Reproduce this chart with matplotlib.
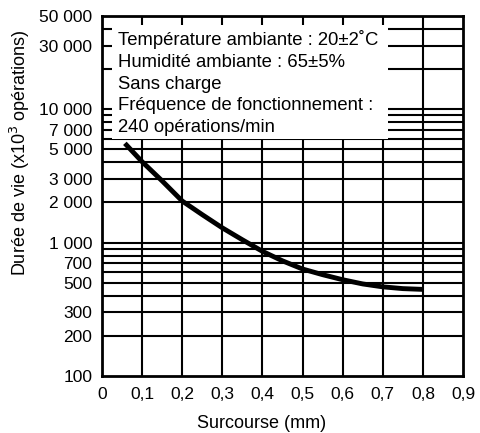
import numpy as np
import matplotlib
matplotlib.use("Agg")
import matplotlib.pyplot as plt
from matplotlib.patches import Rectangle
from matplotlib.ticker import FixedLocator, FuncFormatter, NullFormatter

plt.rcParams["font.family"] = ["Liberation Sans", "DejaVu Sans"]

# curve (stroke in mm, life in x10^3 operations)
stroke = [0.057, 0.1, 0.15, 0.2, 0.25, 0.3, 0.35, 0.4, 0.45, 0.5, 0.55,
          0.6, 0.65, 0.7, 0.75, 0.8]
life = [5550, 4040, 2900, 2050, 1620, 1290, 1050, 860, 730, 634, 575,
        527, 490, 466, 452, 446]

y_ticks = [100, 200, 300, 500, 700, 1000, 2000, 3000, 5000, 7000,
           10000, 30000, 50000]
y_grid = [200, 300, 400, 500, 600, 700, 800, 900, 1000, 2000, 3000, 4000,
          5000, 6000, 7000, 8000, 9000, 10000, 20000, 30000, 40000]
x_ticks = [0, 0.1, 0.2, 0.3, 0.4, 0.5, 0.6, 0.7, 0.8, 0.9]

conditions = ["Température ambiante : 20±2˚C",
              "Humidité ambiante : 65±5%",
              "Sans charge",
              "Fréquence de fonctionnement :",
              "240 opérations/min"]

fig = plt.figure(figsize=(4.81, 4.33), dpi=100)
ax = fig.add_axes([102 / 481, 1 - 376 / 433, 361 / 481, 360 / 433])

ax.set_yscale("log")
ax.set_xlim(0, 0.9)
ax.set_ylim(100, 50000)

ax.yaxis.set_major_locator(FixedLocator(y_ticks))
ax.yaxis.set_minor_locator(FixedLocator([]))
ax.yaxis.set_major_formatter(
    FuncFormatter(lambda v, p: f"{int(v):,}".replace(",", " ")))
ax.yaxis.set_minor_formatter(NullFormatter())
ax.xaxis.set_major_locator(FixedLocator(x_ticks))
ax.xaxis.set_major_formatter(
    FuncFormatter(lambda v, p: "0" if v == 0 else f"{v:.1f}".replace(".", ",")))
ax.tick_params(length=0, labelsize=12.5)
ax.tick_params(axis="y", pad=7)
ax.tick_params(axis="x", pad=8)

for v in y_grid:
    ax.axhline(v, color="black", lw=1.5, zorder=1)
for v in x_ticks[1:-1]:
    ax.axvline(v, color="black", lw=1.5, zorder=1)
for s in ax.spines.values():
    s.set_linewidth(2)

ax.add_patch(Rectangle((0.028, 0.658), 0.764, 0.317, transform=ax.transAxes,
                       facecolor="white", edgecolor="none", zorder=2))
ax.text(0.044, 0.96, "\n".join(conditions), transform=ax.transAxes,
        va="top", ha="left", fontsize=13.3, linespacing=1.36, zorder=3)

ax.plot(stroke, life, color="black", lw=3.5, solid_capstyle="butt", zorder=4)

fig.text(262 / 481, 1 - 423 / 433, "Surcourse (mm)",
         ha="center", va="center", fontsize=13)
fig.text(20 / 481, 1 - 153 / 433, "Durée de vie (x10$^3$ opérations)",
         rotation=90, ha="center", va="center", fontsize=13)

fig.savefig("out.png", dpi=100)
